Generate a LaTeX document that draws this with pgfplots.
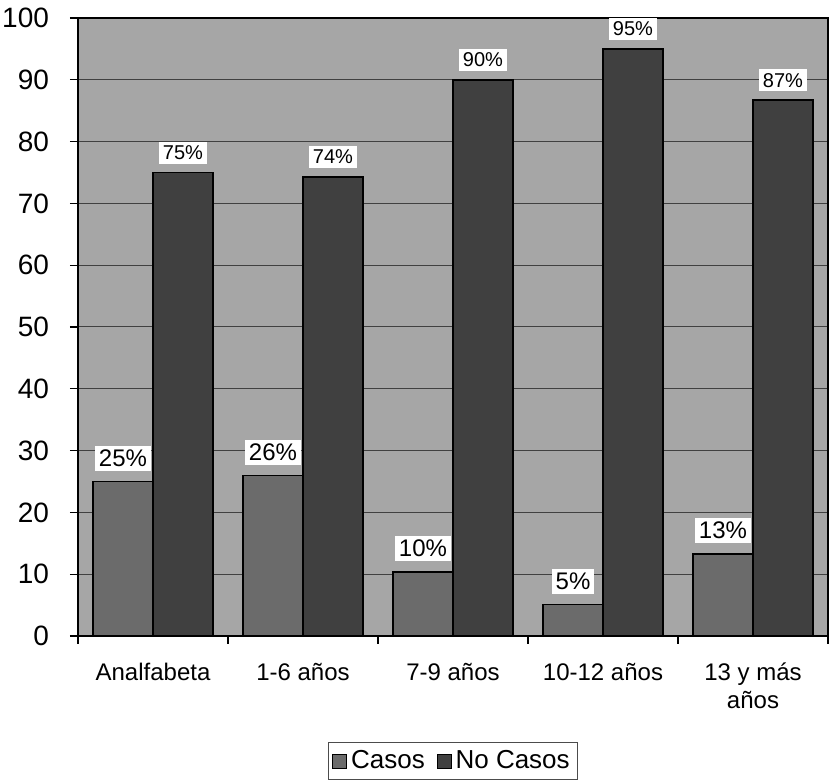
\documentclass[border=0pt]{standalone}
\usepackage{fontspec}
\setmainfont{Liberation Sans}
\usepackage{pgfplots}
\pgfplotsset{compat=1.18}

\begin{document}
\begin{tikzpicture}
\path[use as bounding box] (-39pt,-72pt) rectangle (375.5pt,318pt);
\begin{axis}[
    scale only axis,
    width=375pt, height=309pt,
    xmin=-0.5, xmax=4.5,
    ymin=0, ymax=100,
    ytick={0,10,...,100},
    xtick={-0.5,0.5,...,4.5},
    x tick label as interval,
    xticklabels={Analfabeta,1-6 años,7-9 años,10-12 años,13 y más\\años},
    xtick pos=lower, ytick pos=left,
    tick align=outside,
    major tick length=4pt,
    tick style={black, line width=0.6pt},
    ymajorgrids,
    major grid style={black!75, line width=0.5pt},
    axis line style={black, line width=1pt},
    axis background/.style={fill=black!35},
    /pgf/number format/assume math mode=true,
    yticklabel style={font=\fontsize{14}{16}\selectfont, xshift=-7pt},
    xticklabel style={font=\fontsize{12}{14}\selectfont, align=center, yshift=-6pt},
    ybar, bar width=0.4,
    nodes near coords={\pgfmathprintnumber[fixed,precision=0]{\pgfplotspointmeta}\%},
    legend style={at={(0.5,0)}, anchor=north, yshift=-53pt,
        legend columns=2, draw=black!70, line width=0.4pt,
        font=\fontsize{13}{15}\selectfont, inner sep=2pt,
        /tikz/every even column/.append style={column sep=4pt}},
    legend image code/.code={\draw[#1, draw=black, line width=0.4pt] (0pt,-3.5pt) rectangle (7pt,3.5pt);},
]

% Casos
\addplot[fill=black!58, draw=black, line width=0.8pt, bar shift=-0.2,
    every node near coord/.append style={font=\fontsize{12}{14}\selectfont,
        text=black, fill=white, draw=none, inner sep=2pt, anchor=south, yshift=5pt}]
    coordinates {(0,25) (1,26) (2,10.4) (3,5.1) (4,13.3)};

% No Casos
\addplot[fill=black!75, draw=black, line width=0.8pt, bar shift=0.2,
    every node near coord/.append style={font=\fontsize{10}{12}\selectfont,
        text=black, fill=white, draw=none, inner sep=2pt, anchor=south, yshift=4pt}]
    coordinates {(0,75) (1,74.3) (2,90) (3,95) (4,86.7)};

\legend{Casos, No Casos}
\end{axis}
\end{tikzpicture}
\end{document}
